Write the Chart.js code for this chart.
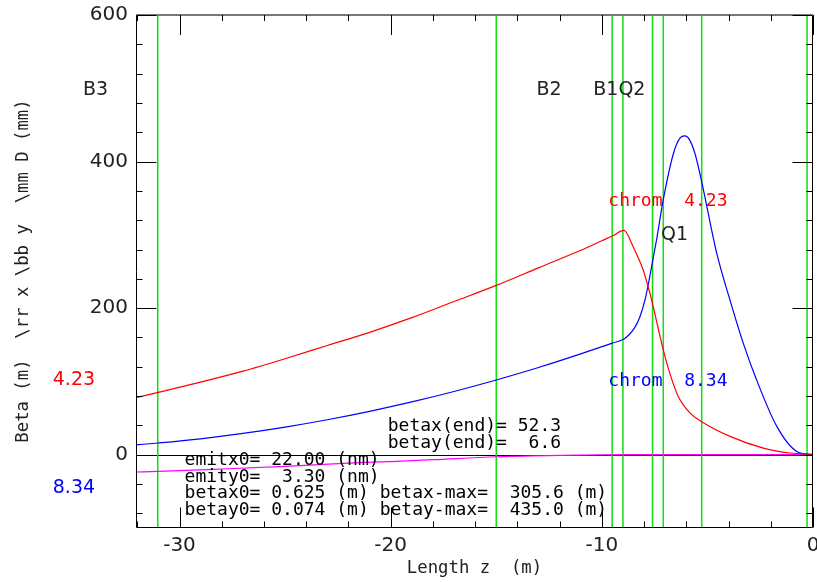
<!DOCTYPE html>
<html>
<head>
<meta charset="utf-8">
<script src="https://cdn.jsdelivr.net/npm/chart.js@4.4.1/dist/chart.umd.min.js"></script>
<style>
  html, body { margin: 0; padding: 0; background: #fff; }
  #wrap { width: 817px; height: 582px; }
</style>
</head>
<body>
<div id="wrap"><canvas id="optics"></canvas></div>
<script>
// --- DATA ---
const zBetaX = [-32.06, -31, -29, -27, -25, -23, -21, -19, -17, -15, -13, -11, -10, -9.5, -8.95, -8.52, -8.04, -7.81, -7.64, -7.09, -6.78, -6.38, -5.83, -5.29, -3.93, -2.35, -1.09, 0];
const betaX = [78, 85, 99, 114, 131, 149, 167, 187, 209, 231, 255, 279, 292, 298.5, 306, 284, 252, 229.5, 211, 143, 111, 79.5, 57, 45.4, 25, 9, 2.3, 0.5];

const zBetaY = [-32.06, -31, -29, -27, -25, -23, -21, -19, -17, -15, -13, -11, -9.5, -8.95, -8.7, -8.45, -8.2, -7.95, -7.73, -7.41, -7.09, -6.61, -6.3, -6.07, -5.85, -5.59, -5.29, -4.56, -3.93, -3.3, -2.67, -1.72, -0.77, 0];
const betaY = [13.4, 16, 21.7, 29, 37.7, 47.7, 59.2, 72, 86.3, 102, 119, 137.6, 152.3, 158, 164, 173, 188, 212, 243, 293, 348, 411, 432, 435, 430, 411, 375, 275, 211, 152, 102, 39, 4.5, 0];

const zDisp = [-32.06, -31, -28, -25, -22, -20, -18, -15, -12, -9, 0];
const dispD = [-23.6, -22.8, -19.5, -15.8, -11.5, -9.3, -6.8, -2.8, -0.8, 0, 0];

const elementZ = [-31.03, -15.0, -9.51, -9.0, -7.6, -7.09, -5.27, -0.28];

const xTicks = [-30, -20, -10, 0];
const yTicks = [0, 200, 400, 600];
const xRange = [-32.06, 0];
const yRange = [-100, 600];

const MONO = '"DejaVu Sans Mono", "Liberation Mono", monospace';
const SANS = '"DejaVu Sans", sans-serif';

const pts = (xs, ys) => xs.map((x, i) => ({ x: x, y: ys[i] }));

const curves = [
  { data: pts(zBetaX, betaX), borderColor: '#ff0000' },
  { data: pts(zBetaY, betaY), borderColor: '#0000ff' },
  { data: pts(zDisp, dispD), borderColor: '#ff00ff' }
];
const elementLines = elementZ.map(z => ({
  data: [{ x: z, y: yRange[0] }, { x: z, y: yRange[1] }],
  borderColor: '#10e010',
  borderWidth: 1.5,
  cubicInterpolationMode: 'default'
}));

// frame, ticks, zero line
const framePlugin = {
  id: 'frame',
  beforeDatasetsDraw(chart) {
    const { ctx, chartArea: a, scales: { y } } = chart;
    ctx.save();
    ctx.strokeStyle = '#000';
    ctx.lineWidth = 1;
    const y0 = Math.round(y.getPixelForValue(0)) + 0.5;
    ctx.beginPath(); ctx.moveTo(a.left, y0); ctx.lineTo(a.right, y0); ctx.stroke();
    ctx.restore();
  },
  afterDatasetsDraw(chart) {
    const { ctx, chartArea: a, scales: { x, y } } = chart;
    ctx.save();
    ctx.lineWidth = 1;
    ctx.strokeStyle = '#000';
    const L = Math.round(a.left) + 0.5, R = Math.round(a.right) - 0.5;
    const T = Math.round(a.top), B = Math.round(a.bottom) - 0.5;
    ctx.beginPath();
    ctx.moveTo(L, T); ctx.lineTo(L, B); ctx.lineTo(R, B); ctx.lineTo(R, T);
    ctx.stroke();
    ctx.strokeStyle = '#777';
    ctx.lineWidth = 2;
    ctx.beginPath(); ctx.moveTo(a.left, T); ctx.lineTo(a.right, T); ctx.stroke();

    ctx.lineWidth = 1;
    ctx.strokeStyle = '#000';
    ctx.beginPath();
    for (let v = -32; v <= 0; v += 2) {
      const px = Math.round(x.getPixelForValue(v)) + 0.5;
      const len = v % 10 === 0 ? 20 : 6;
      ctx.moveTo(px, B); ctx.lineTo(px, B - len);
      ctx.moveTo(px, T); ctx.lineTo(px, T + len);
    }
    for (let v = -80; v <= 600; v += 40) {
      const py = Math.round(y.getPixelForValue(v)) + 0.5;
      const len = v % 200 === 0 ? 20 : 6;
      ctx.moveTo(L, py); ctx.lineTo(L + len, py);
      ctx.moveTo(R, py); ctx.lineTo(R - len, py);
    }
    ctx.stroke();
    ctx.restore();
  },
  afterDraw(chart) {
    const { ctx, chartArea: a, scales: { x, y } } = chart;
    const put = (txt, zx, vy, color, font, align) => {
      ctx.fillStyle = color;
      ctx.font = font;
      ctx.textAlign = align || 'center';
      ctx.textBaseline = 'middle';
      ctx.fillText(txt, x.getPixelForValue(zx), y.getPixelForValue(vy));
    };
    ctx.save();
    const elFont = '19px ' + SANS;
    put('B3', -33.98, 497.7, '#222', elFont);
    put('B2', -12.5, 497.7, '#222', elFont);
    put('B1Q2', -9.17, 497.7, '#222', elFont);
    put('Q1', -6.56, 300, '#222', elFont);

    const chromFont = '18px ' + MONO;
    put('chrom  4.23', -6.87, 346, '#ff0000', chromFont);
    put('chrom  8.34', -6.87, 100, '#0000ff', chromFont);
    put('4.23', -35.0, 102, '#ff0000', '19px ' + SANS);
    put('8.34', -35.0, -45, '#0000ff', '19px ' + SANS);

    const infoFont = '18px ' + MONO;
    put('betax(end)= 52.3', -20.14, 39, '#000', infoFont, 'left');
    put('betay(end)=  6.6', -20.14, 16, '#000', infoFont, 'left');
    put('emitx0= 22.00 (nm)', -29.76, -8, '#000', infoFont, 'left');
    put('emity0=  3.30 (nm)', -29.76, -31, '#000', infoFont, 'left');
    put('betax0= 0.625 (m) betax-max=  305.6 (m)', -29.76, -53, '#000', infoFont, 'left');
    put('betay0= 0.074 (m) betay-max=  435.0 (m)', -29.76, -76, '#000', infoFont, 'left');

    // axis titles
    ctx.fillStyle = '#222';
    ctx.font = '17.3px ' + MONO;
    ctx.textAlign = 'center';
    ctx.textBaseline = 'middle';
    ctx.fillText('Length z  (m)', (a.left + a.right) / 2, 569);
    ctx.translate(24, 271);
    ctx.rotate(-Math.PI / 2);
    ctx.fillText('Beta (m)  \\rr x \\bb y  \\mm D (mm)', 0, 0);
    ctx.restore();
  }
};

new Chart(document.getElementById('optics'), {
  type: 'line',
  data: {
    datasets: curves.concat(elementLines).map(d => Object.assign({
      borderWidth: 1.2,
      pointRadius: 0,
      fill: false,
      cubicInterpolationMode: 'monotone'
    }, d))
  },
  options: {
    responsive: true,
    maintainAspectRatio: false,
    animation: false,
    layout: { padding: { top: 15, right: 4, left: 0, bottom: 0 } },
    plugins: { legend: { display: false }, tooltip: { enabled: false } },
    scales: {
      x: {
        type: 'linear',
        min: xRange[0], max: xRange[1],
        grid: { display: false, drawTicks: false },
        border: { display: false },
        afterBuildTicks: s => { s.ticks = xTicks.map(v => ({ value: v })); },
        afterFit: s => { s.height = 54; s.paddingLeft = 0; s.paddingRight = 0; },
        ticks: { color: '#222', font: { family: SANS, size: 20 }, padding: 6, maxRotation: 0 }
      },
      y: {
        type: 'linear',
        min: yRange[0], max: yRange[1],
        grid: { display: false, drawTicks: false },
        border: { display: false },
        afterBuildTicks: s => { s.ticks = yTicks.map(v => ({ value: v })); },
        afterFit: s => { s.width = 136; s.paddingTop = 0; s.paddingBottom = 0; },
        ticks: { color: '#222', font: { family: SANS, size: 20 }, padding: 8 }
      }
    }
  },
  plugins: [framePlugin]
});
</script>
</body>
</html>
